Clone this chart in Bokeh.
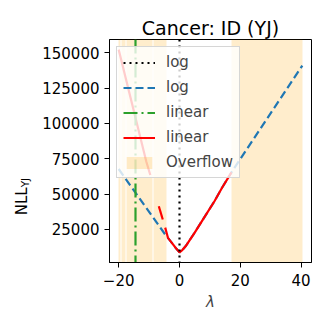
import math
from bokeh.plotting import figure
from bokeh.layouts import row
from bokeh.models import Range1d, FixedTicker, Legend, LegendItem
from bokeh.core.properties import value
from bokeh.embed import file_html
from bokeh.resources import INLINE

nan = float("nan")

# ---- data ----
title_text = "Cancer: ID (YJ)"
x_label = "λ"
y_label_main = "NLL"
y_label_sub = "YJ"

x_ticks = [-20, 0, 20, 40]
x_tick_labels = ["−20", "0", "20", "40"]
y_ticks = [25000, 50000, 75000, 100000, 125000, 150000]
y_tick_labels = ["25000", "50000", "75000", "100000", "125000", "150000"]

# "log" (blue dashed) NLL curve
lam_log = [-20, -4.4, -3.8, -2, -1, 0, 1, 2, 5, 8, 11.5, 14, 17.1, 40.4]
nll_log = [67750, 20400, 19000, 14000, 11200, 8700, 10500, 13000, 22700, 33000, 44900, 54500, 65400, 141000]

# "linear" (red solid) NLL curve, NaN = not computable
lam_lin = [-20, -10.9, -9.6, nan, -6.8, -5.5, nan, -4.7, -3.8, -2, -1, 0, 1, 2, 5, 8, 11.5, 14, 17.1]
nll_lin = [152300, 72900, 63540, nan, 41400, 32000, nan, 26200, 19000, 14000, 11200, 8700, 10500, 13000, 22700, 33000, 44900, 54500, 65400]

# optimal lambdas (vertical lines)
lam_opt_log = [0.0]
lam_opt_lin = [-14.5]

# overflow intervals
overflow_x0 = [-20.0, -19.1, -17.4, -8.7, 17.1]
overflow_x1 = [-19.35, -17.65, -8.95, -4.4, 40.4]

# split the linear curve into its finite pieces
seg_x, seg_y, cx, cy = [], [], [], []
for a, b in zip(lam_lin, nll_lin):
    if math.isnan(a) or math.isnan(b):
        if cx:
            seg_x.append(cx); seg_y.append(cy)
        cx, cy = [], []
    else:
        cx.append(a); cy.append(b)
if cx:
    seg_x.append(cx); seg_y.append(cy)

# ---- ranges (5% margins like matplotlib) ----
xs = [v for v in lam_log + lam_lin + overflow_x0 + overflow_x1 if not math.isnan(v)]
ys = [v for v in nll_log + nll_lin if not math.isnan(v)]
xmin, xmax = min(xs), max(xs)
ymin, ymax = min(ys), max(ys)
xm = 0.05 * (xmax - xmin)
ym = 0.05 * (ymax - ymin)

FONT = "DejaVu Sans"
H = 313
LAB_W = 38

# ---- narrow panel holding the rotated y-axis label ----
pl = figure(frame_width=LAB_W, frame_height=H, output_backend="svg", toolbar_location=None,
            x_range=Range1d(0, LAB_W), y_range=Range1d(0, H),
            x_axis_location=None, y_axis_location=None,
            min_border=0, min_border_left=0, min_border_right=0,
            min_border_top=0, min_border_bottom=0)
pl.grid.visible = False
pl.outline_line_color = None
pl.background_fill_color = "white"
pl.border_fill_color = "white"
mid = H / 2 - 0.5  # vertical centre of the axes box (y up)
len_main = 1.862 * 15
len_sub = 0.906 * 10.5
joint = mid - (len_main + len_sub) / 2 + len_main
pl.text(x=[21], y=[joint], text=[y_label_main], angle=math.pi / 2,
        text_font=value(FONT), text_font_size="15px", text_color="black",
        text_align="right", text_baseline="alphabetic")
pl.text(x=[24.5], y=[joint], text=[y_label_sub], angle=math.pi / 2,
        text_font=value(FONT), text_font_size="10.5px", text_color="black",
        text_align="left", text_baseline="alphabetic")

# ---- main plot ----
p = figure(width=313 - LAB_W, height=H, output_backend="svg", toolbar_location=None,
           x_range=Range1d(xmin - xm, xmax + xm), y_range=Range1d(ymin - ym, ymax + ym),
           min_border_left=109 - LAB_W, min_border_right=2, min_border_top=39, min_border_bottom=49,
           title=title_text)

p.title.text_font = FONT
p.title.text_font_size = "19px"
p.title.text_font_style = "normal"
p.title.align = "center"
p.title.text_color = "black"
p.title.standoff = 2

p.grid.visible = False
p.outline_line_color = "black"
p.outline_line_width = 1
p.outline_line_alpha = 1
p.background_fill_color = "white"
p.border_fill_color = "white"

for ax in (p.xaxis[0], p.yaxis[0]):
    ax.axis_line_color = "black"
    ax.major_tick_line_color = "black"
    ax.minor_tick_line_color = None
    ax.major_tick_out = 5
    ax.major_tick_in = 0
    ax.major_label_text_font = FONT
    ax.major_label_text_font_size = "15px"
    ax.major_label_text_color = "black"
    ax.major_label_standoff = 5

p.xaxis.major_label_standoff = 6
p.xaxis.ticker = FixedTicker(ticks=x_ticks)
p.xaxis.major_label_overrides = {t: s for t, s in zip(x_ticks, x_tick_labels)}
p.yaxis.ticker = FixedTicker(ticks=y_ticks)
p.yaxis.major_label_overrides = {t: s for t, s in zip(y_ticks, y_tick_labels)}

p.xaxis.axis_label = x_label
p.xaxis.axis_label_text_font = FONT
p.xaxis.axis_label_text_font_size = "15px"
p.xaxis.axis_label_text_font_style = "italic"
p.xaxis.axis_label_standoff = 4

# overflow strips
r_over = p.vstrip(x0=overflow_x0, x1=overflow_x1, fill_color="orange", fill_alpha=0.2, line_color=None)

LW = 2.2
r_blue = p.line(lam_log, nll_log, line_color="#1f77b4", line_width=LW, line_dash="8 4")
r_red = p.multi_line(seg_x, seg_y, line_color="red", line_width=LW)
r_black = p.vspan(x=lam_opt_log, line_color="black", line_width=LW, line_dash="2 4")
r_green = p.vspan(x=lam_opt_lin, line_color="#2ca02c", line_width=LW, line_dash="14 4 2 4")

legend = Legend(items=[
    LegendItem(label="log", renderers=[r_black]),
    LegendItem(label="log", renderers=[r_blue]),
    LegendItem(label="linear", renderers=[r_green]),
    LegendItem(label="linear", renderers=[r_red]),
    LegendItem(label="Overflow", renderers=[r_over]),
], location="top_left")
legend.label_text_font = FONT
legend.label_text_font_size = "15px"
legend.glyph_width = 32
legend.glyph_height = 15
legend.label_height = 15
legend.label_standoff = 11
legend.spacing = 7
legend.padding = 6
legend.margin = 7
legend.background_fill_color = "white"
legend.background_fill_alpha = 0.8
legend.border_line_color = "#cccccc"
legend.border_line_alpha = 0.8
p.add_layout(legend)

layout = row(pl, p, spacing=0)
open("out.html", "w").write(file_html(layout, INLINE))
